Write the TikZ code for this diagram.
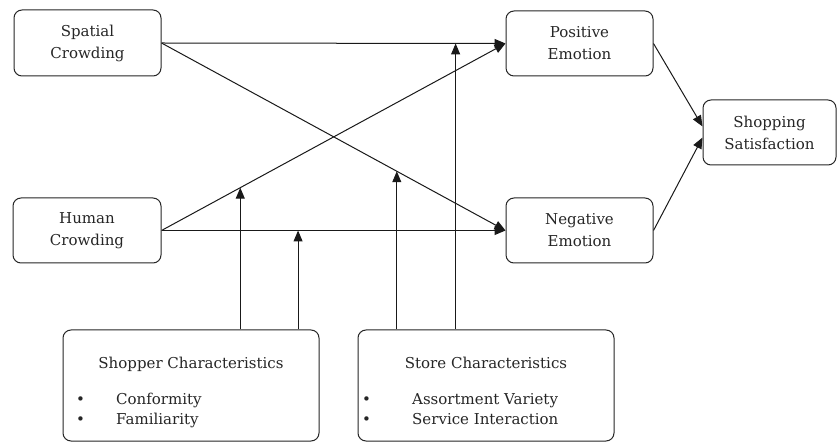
\documentclass[tikz,border=0pt]{standalone}
\usepackage{fontspec}
\setmainfont{DejaVu Serif}
\usetikzlibrary{arrows.meta,calc}
\begin{document}
\begin{tikzpicture}[x=1pt,y=-1pt,
  box/.style={draw=black!85, line width=1pt, rounded corners=8pt, fill=white, inner sep=0pt},
  lbl/.style={text=black!85, font=\fontsize{15}{22}\selectfont, align=center, inner sep=0pt},
  txt/.style={text=black!85, font=\fontsize{15}{22}\selectfont, inner sep=0pt, anchor=base west},
  conn/.style={draw=black!90, line width=1pt, -{Triangle[length=11pt,width=9pt]}}]
\useasboundingbox (0,0) rectangle (840,443);
% boxes
\node[box, minimum width=147pt, minimum height=66pt] (sc) at (87.5,43) {};
\node[lbl] at (sc) {Spatial\\Crowding};
\node[box, minimum width=148pt, minimum height=65pt] (hc) at (87,230.5) {};
\node[lbl] at (hc) {Human\\Crowding};
\node[box, minimum width=147pt, minimum height=65pt] (pe) at (579.5,43.5) {};
\node[lbl] at (pe) {Positive\\Emotion};
\node[box, minimum width=147pt, minimum height=65pt] (ne) at (579.5,230.5) {};
\node[lbl] at (ne) {Negative\\Emotion};
\node[box, minimum width=133pt, minimum height=65pt] (ss) at (769.5,132.5) {};
\node[lbl] at (ss) {Shopping\\Satisfaction};
\node[box, minimum width=256pt, minimum height=111pt] (shop) at (191,385.5) {};
\node[box, minimum width=256pt, minimum height=111pt] (store) at (486,385.5) {};
% box texts
\node[txt, anchor=base] (shopt) at (191,368) {Shopper Characteristics};
\node[txt] (shopb1) at (76,404) {•};
\node[txt] (shopi1) at (116,404) {Conformity};
\node[txt] (shopb2) at (76,424) {•};
\node[txt] (shopi2) at (116,424) {Familiarity};
\node[txt, anchor=base] (storet) at (486,368) {Store Characteristics};
\node[txt] (storeb1) at (362,404) {•};
\node[txt] (storei1) at (412,404) {Assortment Variety};
\node[txt] (storeb2) at (362,424) {•};
\node[txt] (storei2) at (412,424) {Service Interaction};
% connectors
\draw[conn] (sc.east) -- (pe.west);
\draw[conn] (sc.east) -- (ne.west);
\draw[conn] (hc.east) -- (pe.west);
\draw[conn] (hc.east) -- (ne.west);
\coordinate (ssa) at ($(ss.west)+(0,-6)$);
\coordinate (ssb) at ($(ss.west)+(0,5)$);
\draw[conn] (pe.east) -- (ssa);
\draw[conn] (ne.east) -- (ssb);
% moderators
\coordinate (m1) at ($(hc.east)!0.229!(pe.west)$);
\coordinate (m2) at ($(hc.east)!0.397!(ne.west)$);
\coordinate (m3) at ($(sc.east)!0.684!(ne.west)$);
\coordinate (m4) at ($(sc.east)!0.855!(pe.west)$);
\draw[conn] (shop.north -| m1) -- (m1);
\draw[conn] (shop.north -| m2) -- (m2);
\draw[conn] (store.north -| m3) -- (m3);
\draw[conn] (store.north -| m4) -- (m4);
\end{tikzpicture}
\end{document}
